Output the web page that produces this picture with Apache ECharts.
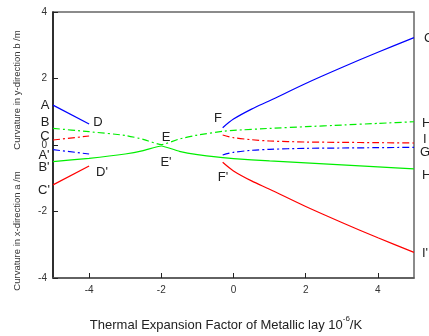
<!DOCTYPE html>
<html>
<head>
<meta charset="utf-8">
<script src="https://cdn.jsdelivr.net/npm/echarts@6/dist/echarts.min.js"></script>
<style>
  html, body { margin: 0; padding: 0; background: #fff; }
  #chart { width: 429px; height: 336px; }
</style>
</head>
<body>
<div id="chart"></div>
<script>
// values (x: thermal expansion factor, y: curvature)
const xLeft = [-5, -4];
const blueSolidLeft = [1.2, 0.63];
const redDashLeft = [0.15, 0.27];
const blueDashLeft = [-0.14, -0.27];
const redSolidLeft = [-1.2, -0.63];

const xGreen = [-5, -4, -3, -2.5, -2, -1.5, -1, -0.3, 0, 1, 2, 3, 4, 5];
const greenDash = [0.5, 0.4, 0.29, 0.17, 0.01, 0.18, 0.3, 0.41, 0.44, 0.5, 0.55, 0.6, 0.65, 0.7];
const greenSolid = [-0.5, -0.4, -0.27, -0.17, -0.03, -0.19, -0.29, -0.38, -0.41, -0.48, -0.54, -0.6, -0.66, -0.72];

const xRight = [-0.3, 0, 0.5, 1, 2, 3, 4, 5];
const blueSolidRight = [0.52, 0.78, 1.08, 1.33, 1.85, 2.33, 2.79, 3.23];
const redDashRight = [0.3, 0.22, 0.16, 0.12, 0.09, 0.08, 0.07, 0.06];
const blueDashRight = [-0.3, -0.22, -0.16, -0.13, -0.1, -0.09, -0.08, -0.07];
const redSolidRight = [-0.52, -0.78, -1.08, -1.33, -1.85, -2.33, -2.79, -3.23];

const xTicks = [-4, -2, 0, 2, 4];

// point labels: [text, px, py]
const pointLabels = [
  ["A", 45, 105], ["B", 45, 122], ["C", 45, 136],
  ["A'", 44, 155], ["B'", 44, 167], ["C'", 44, 190],
  ["D", 98, 122], ["D'", 102, 172],
  ["E", 166, 137], ["E'", 166, 162],
  ["F", 218, 118], ["F'", 223, 177],
];
// labels right of the frame: [text, left, py]
const rightLabels = [
  ["G", 424, 38], ["H", 422, 123], ["I", 423, 139], ["G", 420, 152], ["H'", 422, 175], ["I'", 422, 253],
];

const FONT = "'Liberation Sans', Arial, sans-serif";
const BLUE = "#0000ff", RED = "#ff0000", GREEN = "#00ee00";
const DASHDOT = [7, 3, 2, 3];

const zip = (xs, ys) => xs.map((x, i) => [x, ys[i]]);

function line(data, color, dashed, smooth) {
  return {
    type: "line",
    data: data,
    smooth: smooth,
    showSymbol: false,
    symbol: "none",
    silent: true,
    lineStyle: { color: color, width: 1.2, type: dashed ? DASHDOT : "solid" },
  };
}

const chart = echarts.init(document.getElementById("chart"), null, { renderer: "canvas" });

// x-axis title with a superscript, laid out by measuring text
const ctx = document.createElement("canvas").getContext("2d");
const titleMain = "Thermal Expansion Factor of Metallic lay 10";
ctx.font = "13px " + FONT;
const wMain = ctx.measureText(titleMain).width;
const wK = ctx.measureText("/K").width;
ctx.font = "8px " + FONT;
const wSup = ctx.measureText("-6").width;
const titleLeft = 226 - (wMain + wSup + wK) / 2;

const graphics = [];
pointLabels.forEach(([t, x, y]) => {
  graphics.push({
    type: "text", x: x, y: y,
    style: { text: t, font: "13px " + FONT, fill: "#222", textAlign: "center", textVerticalAlign: "middle" },
  });
});
rightLabels.forEach(([t, x, y]) => {
  graphics.push({
    type: "text", x: x, y: y,
    style: { text: t, font: "13px " + FONT, fill: "#222", textAlign: "left", textVerticalAlign: "middle" },
  });
});
graphics.push(
  { type: "text", x: 17, y: 90, rotation: Math.PI / 2,
    style: { text: "Curvature in y-direction b /m", font: "9.5px " + FONT, fill: "#333", textAlign: "center", textVerticalAlign: "middle" } },
  { type: "text", x: 17, y: 231, rotation: Math.PI / 2,
    style: { text: "Curvature in x-direction a /m", font: "9.5px " + FONT, fill: "#333", textAlign: "center", textVerticalAlign: "middle" } },
  { type: "text", x: titleLeft, y: 325,
    style: { text: titleMain, font: "13px " + FONT, fill: "#222", textAlign: "left", textVerticalAlign: "middle" } },
  { type: "text", x: titleLeft + wMain, y: 319,
    style: { text: "-6", font: "8px " + FONT, fill: "#222", textAlign: "left", textVerticalAlign: "middle" } },
  { type: "text", x: titleLeft + wMain + wSup, y: 325,
    style: { text: "/K", font: "13px " + FONT, fill: "#222", textAlign: "left", textVerticalAlign: "middle" } }
);

chart.setOption({
  animation: false,
  grid: { left: 53, right: 15, top: 12, bottom: 58, show: true, borderColor: "#666", borderWidth: 1.5 },
  xAxis: {
    type: "value",
    min: -5,
    max: 5,
    axisLine: { show: true, onZero: false, lineStyle: { color: "#555", width: 1.5 } },
    axisTick: { show: true, inside: true, length: 5, customValues: xTicks, lineStyle: { color: "#222" } },
    axisLabel: { customValues: xTicks, fontSize: 10, fontFamily: FONT, color: "#333", margin: 7 },
    splitLine: { show: false },
  },
  yAxis: {
    type: "value",
    min: -4,
    max: 4,
    interval: 2,
    axisLine: { show: true, onZero: false, lineStyle: { color: "#111", width: 1.5 } },
    axisTick: { show: true, inside: true, length: 5, lineStyle: { color: "#222" } },
    axisLabel: { fontSize: 10, fontFamily: FONT, color: "#333", margin: 6 },
    splitLine: { show: false },
  },
  series: [
    line(zip(xLeft, blueSolidLeft), BLUE, false, false),
    line(zip(xLeft, redDashLeft), RED, true, false),
    line(zip(xLeft, blueDashLeft), BLUE, true, false),
    line(zip(xLeft, redSolidLeft), RED, false, false),
    line(zip(xGreen, greenDash), GREEN, true, 0.15),
    line(zip(xGreen, greenSolid), GREEN, false, 0.15),
    line(zip(xRight, blueSolidRight), BLUE, false, 0.3),
    line(zip(xRight, redDashRight), RED, true, 0.3),
    line(zip(xRight, blueDashRight), BLUE, true, 0.3),
    line(zip(xRight, redSolidRight), RED, false, 0.3),
  ],
  graphic: graphics,
});
</script>
</body>
</html>
